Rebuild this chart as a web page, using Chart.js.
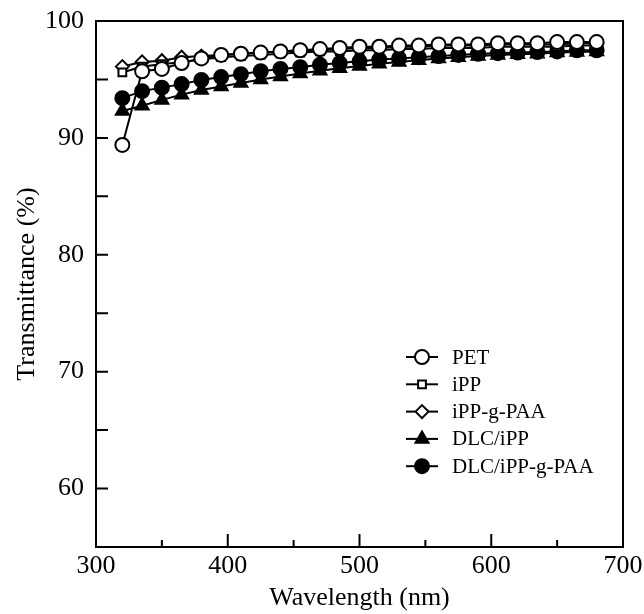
<!DOCTYPE html>
<html>
<head>
<meta charset="utf-8">
<script src="https://cdn.jsdelivr.net/npm/chart.js@4.4.1/dist/chart.umd.min.js"></script>
<style>
  html, body { margin: 0; padding: 0; background: #fff; }
  #wrap { width: 644px; height: 614px; }
</style>
</head>
<body>
<div id="wrap"><canvas id="myChart" width="644" height="614"></canvas></div>
<script>
// wavelength (nm)
const wavelengths = [320, 335, 350, 365, 380, 395, 410, 425, 440, 455, 470, 485, 500,
    515, 530, 545, 560, 575, 590, 605, 620, 635, 650, 665, 680];

// transmittance (%)
const pet = [89.4, 95.7, 95.9, 96.4, 96.8, 97.1, 97.2, 97.3, 97.4, 97.5, 97.6, 97.7, 97.8,
    97.8, 97.9, 97.9, 98.0, 98.0, 98.0, 98.1, 98.1, 98.1, 98.2, 98.2, 98.2];
const ipp = [95.6, 96.1, 96.3, 96.5, 96.7, 96.9, 97.0, 97.1, 97.2, 97.3, 97.4, 97.4, 97.5,
    97.5, 97.6, 97.6, 97.7, 97.7, 97.7, 97.8, 97.8, 97.8, 97.8, 97.9, 97.9];
const ippPaa = [96.1, 96.5, 96.6, 96.9, 97.0, 97.1, 97.2, 97.3, 97.4, 97.5, 97.5, 97.6, 97.7,
    97.7, 97.8, 97.8, 97.9, 97.9, 97.9, 98.0, 98.0, 98.0, 98.0, 98.1, 98.1];
const dlcIpp = [92.3, 92.75, 93.25, 93.7, 94.1, 94.4, 94.7, 95.0, 95.25, 95.5, 95.75, 95.95, 96.15,
    96.35, 96.5, 96.65, 96.8, 96.9, 97.0, 97.1, 97.15, 97.2, 97.3, 97.35, 97.4];
const dlcIppPaa = [93.4, 94.0, 94.3, 94.6, 94.95, 95.2, 95.45, 95.7, 95.9, 96.05, 96.25, 96.4, 96.55,
    96.7, 96.8, 96.9, 97.0, 97.1, 97.2, 97.25, 97.3, 97.35, 97.4, 97.5, 97.5];

const xTicks = [300, 400, 500, 600, 700];
const yTicks = [60, 70, 80, 90, 100];

const FONT = "'Liberation Serif', 'Times New Roman', serif";

function toPoints(ys) {
    return wavelengths.map((x, i) => ({ x: x, y: ys[i] }));
}

function makeSet(label, ys, style, radius, filled) {
    return {
        label: label,
        data: toPoints(ys),
        borderColor: '#000',
        borderWidth: 2,
        pointStyle: style,
        pointRadius: radius,
        pointBorderWidth: 2,
        pointBorderColor: '#000',
        pointBackgroundColor: filled ? '#000' : '#fff',
        tension: 0,
        fill: false
    };
}

// frame + inward ticks
const framePlugin = {
    id: 'frame',
    afterDraw(chart) {
        const ctx = chart.ctx;
        const a = chart.chartArea;
        const xs = chart.scales.x;
        const ys = chart.scales.y;
        ctx.save();
        ctx.strokeStyle = '#000';
        ctx.lineWidth = 2;
        ctx.strokeRect(a.left, a.top, a.right - a.left, a.bottom - a.top);
        ctx.beginPath();
        for (let v = 300; v <= 700; v += 50) {
            const px = xs.getPixelForValue(v);
            const len = v % 100 === 0 ? 13 : 7;
            ctx.moveTo(px, a.bottom);
            ctx.lineTo(px, a.bottom - len);
        }
        for (let v = 60; v <= 100; v += 5) {
            const py = ys.getPixelForValue(v);
            ctx.moveTo(a.left, py);
            ctx.lineTo(a.left + 12, py);
        }
        ctx.stroke();
        ctx.restore();
    }
};

// legend drawn inside the plot
const legendPlugin = {
    id: 'insideLegend',
    afterDraw(chart) {
        const ctx = chart.ctx;
        const x0 = 406, x1 = 438, tx = 452;
        let y = 357;
        ctx.save();
        ctx.font = '21px ' + FONT;
        ctx.textBaseline = 'middle';
        chart.data.datasets.forEach(ds => {
            ctx.strokeStyle = '#000';
            ctx.lineWidth = 2;
            ctx.beginPath();
            ctx.moveTo(x0, y);
            ctx.lineTo(x1, y);
            ctx.stroke();
            ctx.fillStyle = ds.pointBackgroundColor;
            Chart.helpers.drawPoint(ctx, {
                pointStyle: ds.pointStyle,
                radius: ds.pointRadius,
                rotation: 0,
                borderWidth: 2
            }, (x0 + x1) / 2, y);
            ctx.fillStyle = '#000';
            ctx.fillText(ds.label, tx, y + 1);
            y += 27.3;
        });
        ctx.restore();
    }
};

const ctx = document.getElementById('myChart').getContext('2d');
new Chart(ctx, {
    type: 'line',
    data: {
        datasets: [
            makeSet('PET', pet, 'circle', 7, false),
            makeSet('iPP', ipp, 'rect', 5.5, false),
            makeSet('iPP-g-PAA', ippPaa, 'rectRot', 6.5, false),
            makeSet('DLC/iPP', dlcIpp, 'triangle', 7.5, true),
            makeSet('DLC/iPP-g-PAA', dlcIppPaa, 'circle', 7, true)
        ]
    },
    options: {
        responsive: false,
        animation: false,
        layout: { padding: { top: 21, right: 21, left: 0, bottom: 0 } },
        plugins: {
            legend: { display: false },
            tooltip: { enabled: false }
        },
        scales: {
            x: {
                type: 'linear',
                min: 300,
                max: 700,
                afterBuildTicks: s => { s.ticks = xTicks.map(v => ({ value: v })); },
                afterFit: s => { s.height = 67; s.paddingLeft = 0; s.paddingRight = 0; },
                grid: { display: false, drawTicks: false },
                border: { display: true, color: '#000', width: 2 },
                ticks: { color: '#000', font: { family: FONT, size: 26 }, padding: 4, maxRotation: 0 },
                title: { display: true, text: 'Wavelength (nm)', color: '#000', font: { family: FONT, size: 26 }, padding: { top: 0, bottom: 0 } }
            },
            y: {
                min: 55,
                max: 100,
                afterBuildTicks: s => { s.ticks = yTicks.map(v => ({ value: v })); },
                afterFit: s => { s.width = 96; s.paddingTop = 0; s.paddingBottom = 0; },
                grid: { display: false, drawTicks: false },
                border: { display: true, color: '#000', width: 2 },
                ticks: { color: '#000', font: { family: FONT, size: 26 }, padding: 12 },
                title: { display: true, text: 'Transmittance (%)', color: '#000', font: { family: FONT, size: 26 }, padding: { top: 12, bottom: 0 } }
            }
        }
    },
    plugins: [framePlugin, legendPlugin]
});
</script>
</body>
</html>
